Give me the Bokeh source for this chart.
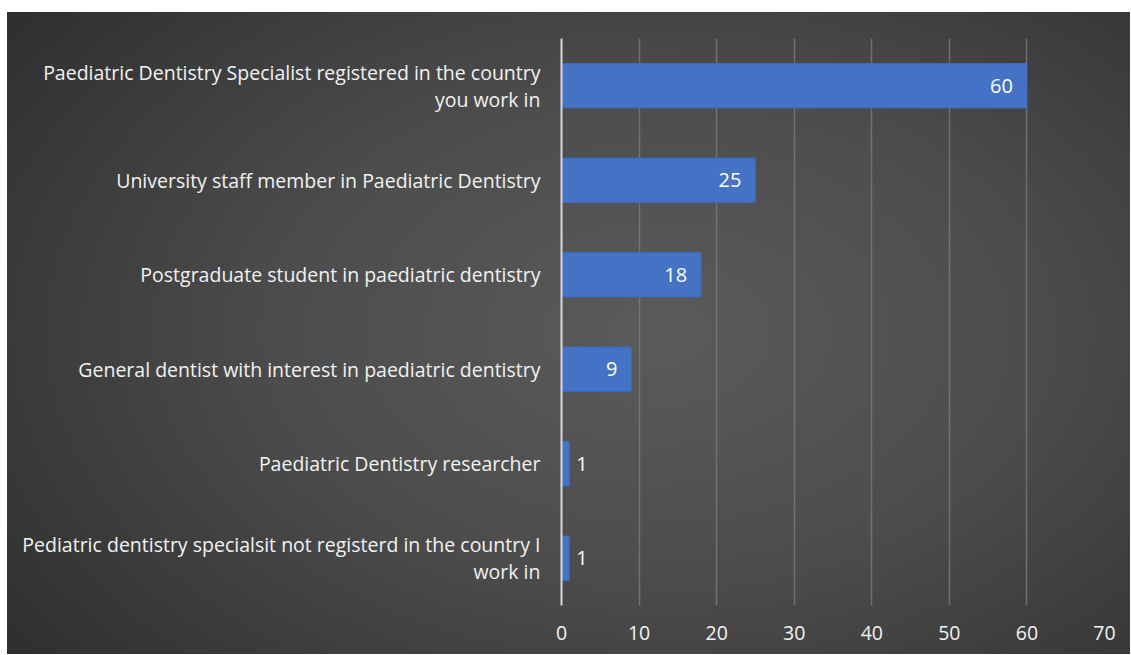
from bokeh.plotting import figure
from bokeh.models import ColumnDataSource, Range1d, FactorRange, FixedTicker, LabelSet
from bokeh.core.properties import value
from bokeh.embed import file_html
from bokeh.resources import INLINE

categories = [
    "Paediatric Dentistry Specialist registered in the country\nyou work in",
    "University staff member in Paediatric Dentistry",
    "Postgraduate student in paediatric dentistry",
    "General dentist with interest in paediatric dentistry",
    "Paediatric Dentistry researcher",
    "Pediatric dentistry specialsit not registerd in the country I\nwork in",
]
values = [60, 25, 18, 9, 1, 1]
x_ticks = [0, 10, 20, 30, 40, 50, 60, 70]

FONT = "Open Sans"

inside = [v >= 5 for v in values]
source = ColumnDataSource(dict(
    cat=categories,
    val=values,
    txt=[str(v) for v in values],
    align=["right" if i else "left" for i in inside],
    xoff=[-14 if i else 7 for i in inside],
))

p = figure(
    width=1123, height=642,
    y_range=FactorRange(factors=categories[::-1]),
    x_range=Range1d(0, 70),
    output_backend="svg", toolbar_location=None,
    min_border_left=554, min_border_right=26,
    min_border_top=26, min_border_bottom=49,
)
p.styles = {
    "margin-top": "12px",
    "margin-left": "7px",
    "background": "radial-gradient(ellipse 75% 85% at 58% 50%, #5b5b5b 0%, #4c4c4c 45%, #2d2d2d 100%)",
}
p.background_fill_alpha = 0
p.border_fill_alpha = 0
p.outline_line_color = None

p.hbar(y="cat", right="val", left=0, height=0.47, source=source,
       fill_color="#4472C4", line_color="#3d69bd", line_width=1)

labels = LabelSet(x="val", y="cat", text="txt", source=source,
                  text_align="align", x_offset="xoff", text_baseline="middle",
                  text_color="#ffffff", text_font=value(FONT), text_font_size="20px")
p.add_layout(labels)

p.xgrid.ticker = FixedTicker(ticks=x_ticks)
p.xgrid.grid_line_color = "#7a7a7a"
p.xgrid.grid_line_alpha = 0.8
p.xgrid.grid_line_width = 1.5
p.ygrid.grid_line_color = None

p.xaxis.ticker = FixedTicker(ticks=x_ticks)
p.xaxis.axis_line_color = None
p.xaxis.major_tick_line_color = None
p.xaxis.minor_tick_line_color = None
p.xaxis.major_label_standoff = 14
p.xaxis.major_label_text_font = FONT
p.xaxis.major_label_text_font_size = "19.5px"
p.xaxis.major_label_text_color = "#f2f2f2"

p.yaxis.axis_line_color = "#d9d9d9"
p.yaxis.axis_line_width = 2
p.yaxis.major_tick_line_color = None
p.yaxis.minor_tick_line_color = None
p.yaxis.major_label_standoff = 15
p.yaxis.major_label_text_font = FONT
p.yaxis.major_label_text_font_size = "19.5px"
p.yaxis.major_label_text_line_height = 1.0
p.yaxis.major_label_text_color = "#f2f2f2"

open("out.html", "w").write(file_html(p, INLINE))
